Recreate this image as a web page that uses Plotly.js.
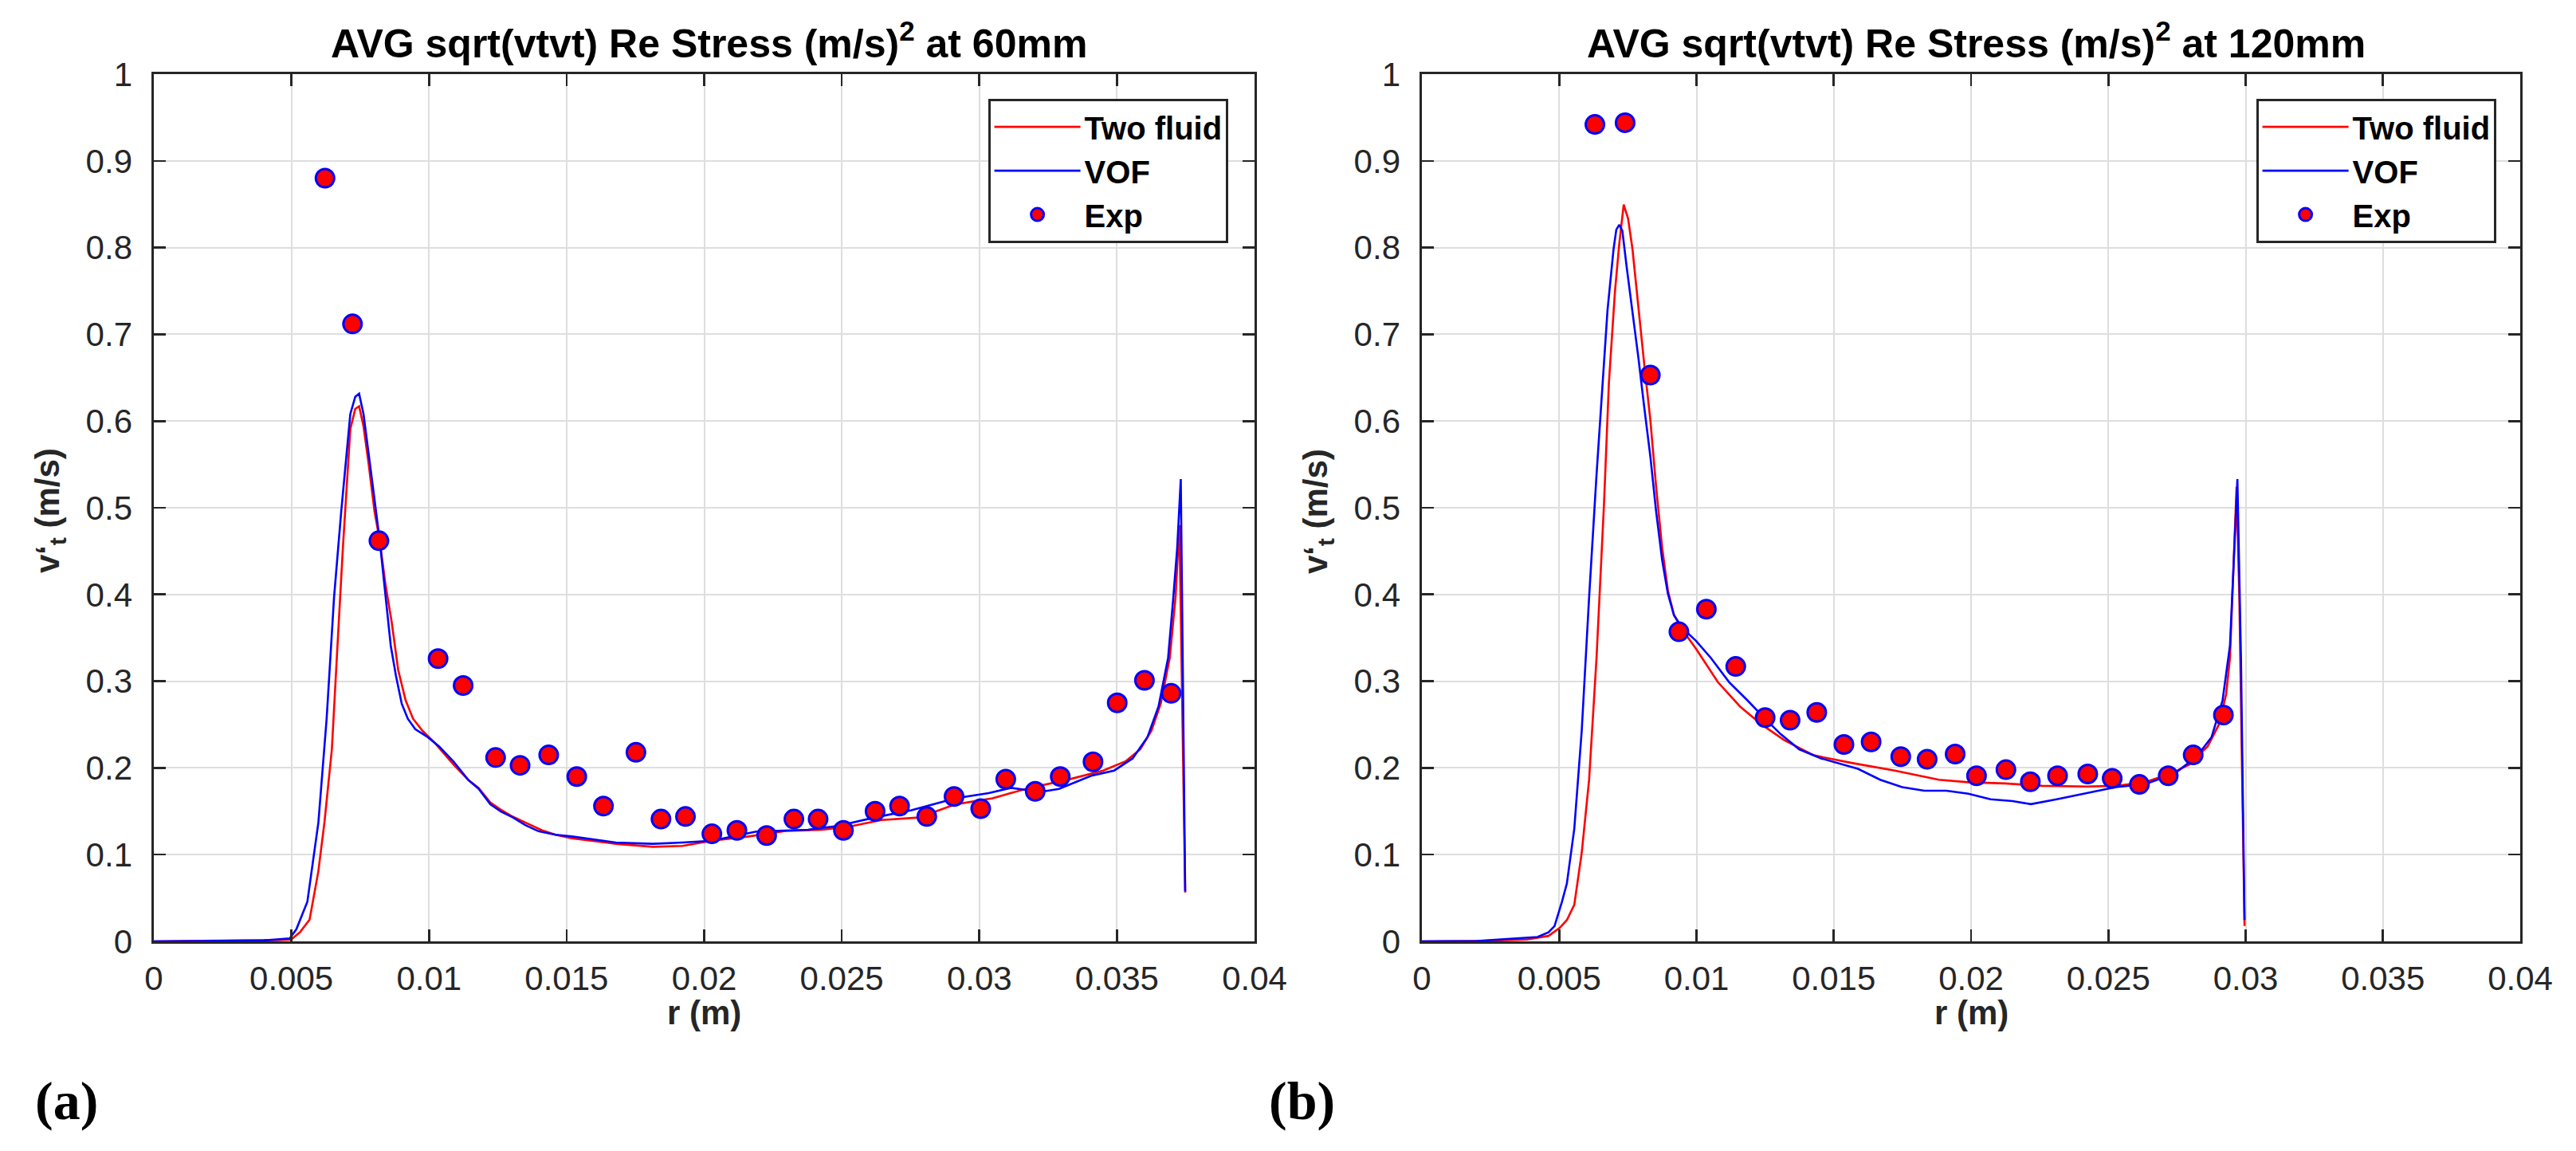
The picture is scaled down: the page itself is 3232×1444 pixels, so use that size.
<!DOCTYPE html>
<html>
<head>
<meta charset="utf-8">
<script src="https://cdn.plot.ly/plotly-3.0.1.min.js"></script>
<style>
html,body{margin:0;padding:0;background:#fff;}
#chart{width:3232px;height:1444px;}
</style>
</head>
<body>
<div id="chart"></div>
<script>
// ---------- Data: panel (a) 60 mm ----------
const expR60 = [0.00622,0.00722,0.00818,0.01033,0.01124,0.01242,0.01331,0.01435,0.01537,0.01634,0.01752,0.01843,0.01932,0.02028,0.02119,0.02227,0.02326,0.02414,0.02506,0.02621,0.02710,0.02809,0.02908,0.03005,0.03096,0.03203,0.03294,0.03413,0.03501,0.03600,0.03697];
const expV60 = [0.880,0.712,0.462,0.326,0.295,0.212,0.203,0.215,0.190,0.156,0.218,0.141,0.144,0.124,0.128,0.122,0.141,0.141,0.128,0.150,0.156,0.144,0.167,0.153,0.187,0.173,0.190,0.207,0.275,0.301,0.286];

const twoR60 = [0,0.002,0.004,0.0045,0.00499,0.00531,0.00566,0.00598,0.0062,0.00647,0.00665,0.00687,0.00714,0.00732,0.00746,0.00762,0.0078,0.00802,0.00821,0.00842,0.00864,0.00888,0.00915,0.00942,0.00977,0.01022,0.01089,0.01143,0.0118,0.01223,0.0126,0.01304,0.0135,0.01411,0.0146,0.01519,0.01679,0.01814,0.01921,0.02028,0.02162,0.02296,0.0243,0.02538,0.02645,0.0278,0.02913,0.03048,0.03182,0.03316,0.0345,0.03531,0.03585,0.03625,0.03659,0.03692,0.03713,0.03727,0.03748];
const twoV60 = [0,0.0005,0.001,0.0015,0.002,0.0105,0.025,0.081,0.137,0.2215,0.327,0.4536,0.5907,0.614,0.617,0.594,0.552,0.4958,0.462,0.411,0.369,0.313,0.278,0.2567,0.2426,0.2285,0.204,0.186,0.177,0.160,0.152,0.1438,0.137,0.128,0.123,0.1188,0.1125,0.109,0.110,0.116,0.121,0.1273,0.1287,0.133,0.140,0.1428,0.158,0.165,0.177,0.186,0.197,0.2075,0.2215,0.2426,0.274,0.327,0.397,0.48,0.0563];

const vofR60 = [0,0.002,0.004,0.00494,0.00518,0.00558,0.00598,0.00628,0.00655,0.00681,0.00714,0.00732,0.00746,0.00762,0.0078,0.00799,0.00821,0.00842,0.00861,0.0088,0.00901,0.00923,0.0095,0.00995,0.01036,0.01089,0.01143,0.0118,0.01223,0.0126,0.01304,0.0135,0.01398,0.0146,0.01519,0.01679,0.01814,0.01921,0.02028,0.02189,0.02377,0.02485,0.02619,0.02753,0.02913,0.03034,0.03115,0.03222,0.03289,0.0341,0.0349,0.03557,0.03611,0.03651,0.03686,0.03705,0.03719,0.03732,0.03748];
const vofV60 = [0,0.0005,0.001,0.0035,0.014,0.0457,0.137,0.2567,0.397,0.4958,0.608,0.628,0.6315,0.608,0.566,0.517,0.462,0.397,0.341,0.306,0.274,0.2567,0.2447,0.2356,0.225,0.2075,0.186,0.176,0.158,0.150,0.143,0.134,0.127,0.123,0.121,0.114,0.1125,0.114,0.116,0.1266,0.1287,0.133,0.1428,0.1512,0.165,0.171,0.177,0.1723,0.1758,0.1913,0.197,0.211,0.2356,0.2707,0.327,0.397,0.4536,0.533,0.0577];

// ---------- Data: panel (b) 120 mm ----------
const expR120 = [0.0063,0.0074,0.00832,0.00936,0.01036,0.01143,0.0125,0.01341,0.01438,0.01537,0.01636,0.01744,0.0184,0.01942,0.0202,0.02127,0.02216,0.02315,0.02425,0.02514,0.02613,0.02718,0.02809,0.02919];
const expV120 = [0.942,0.944,0.653,0.357,0.383,0.317,0.258,0.255,0.264,0.227,0.230,0.213,0.210,0.216,0.191,0.198,0.184,0.191,0.193,0.188,0.181,0.191,0.215,0.261];

const twoR120 = [0,0.002,0.00381,0.00461,0.00502,0.00528,0.00555,0.00582,0.00609,0.00636,0.00663,0.00681,0.00703,0.00719,0.00735,0.00751,0.00767,0.00789,0.0081,0.00832,0.00853,0.00875,0.00896,0.00918,0.0095,0.00998,0.01078,0.01159,0.01239,0.0132,0.01427,0.01561,0.01722,0.01883,0.0199,0.02125,0.02259,0.0242,0.02527,0.02634,0.02728,0.02795,0.02862,0.02902,0.02929,0.02943,0.02956,0.02967,0.02977,0.02988,0.02996];
const twoV120 = [0,0.0005,0.002,0.0063,0.0155,0.0246,0.0422,0.102,0.1864,0.327,0.503,0.6435,0.749,0.805,0.8495,0.8333,0.798,0.728,0.6646,0.6013,0.524,0.4536,0.4044,0.3762,0.3586,0.3376,0.2989,0.2707,0.2496,0.232,0.2145,0.206,0.1969,0.1864,0.1835,0.1821,0.1793,0.1786,0.1793,0.1835,0.1934,0.2039,0.225,0.2496,0.2848,0.327,0.4325,0.524,0.397,0.1864,0.0176];

const vofR120 = [0,0.002,0.00421,0.00461,0.00483,0.0051,0.00528,0.00555,0.00582,0.00609,0.00636,0.00657,0.00676,0.00698,0.00708,0.00719,0.0073,0.00746,0.00767,0.00789,0.0081,0.00832,0.00853,0.00875,0.00896,0.00918,0.0095,0.00998,0.01052,0.01119,0.01186,0.01239,0.01306,0.01374,0.01454,0.01588,0.01669,0.01749,0.0183,0.0191,0.0199,0.02071,0.02151,0.02218,0.02312,0.0242,0.02527,0.02634,0.02741,0.02822,0.02876,0.02916,0.02943,0.02956,0.0297,0.02983,0.02996];
const vofV120 = [0,0.0005,0.005,0.0105,0.0176,0.0457,0.0668,0.130,0.2426,0.397,0.538,0.6364,0.7278,0.7982,0.8207,0.8263,0.8193,0.777,0.728,0.6716,0.6153,0.5591,0.4958,0.4395,0.4008,0.3762,0.3608,0.3467,0.327,0.2989,0.2778,0.2602,0.2391,0.2215,0.211,0.199,0.1864,0.1779,0.1737,0.1737,0.1702,0.1639,0.1617,0.1582,0.1639,0.1709,0.1779,0.1814,0.1934,0.2131,0.2356,0.2778,0.341,0.4325,0.533,0.327,0.0246];

// ---------- Text ----------
const seriesNames = ['Two fluid', 'VOF', 'Exp'];
const titles = ['AVG sqrt(vtvt) Re Stress (m/s)<sup>2</sup> at 60mm', 'AVG sqrt(vtvt) Re Stress (m/s)<sup>2</sup> at 120mm'];
const xLabel = 'r (m)';
const yLabel = 'v‘<sub>t</sub> (m/s)';
const panelLabels = ['(a)', '(b)'];

// ---------- Styling ----------
const FONT = 'Liberation Sans, Arial, Helvetica, sans-serif';
const AX = '#262626';
const W = 3232, H = 1444;
const px = v => v / W;
const py = v => 1 - v / H;

function lineTrace(x, y, name, color, xa, ya, leg) {
  return {x, y, name, type: 'scatter', mode: 'lines', xaxis: xa, yaxis: ya, legend: leg,
          line: {color, width: 2.6}, hoverinfo: 'skip'};
}
function expTrace(x, y, xa, ya, leg) {
  return {x, y, name: seriesNames[2], type: 'scatter', mode: 'markers', xaxis: xa, yaxis: ya, legend: leg,
          marker: {symbol: 'circle', size: 23, color: '#ff0000', line: {color: '#0000ff', width: 3}}, hoverinfo: 'skip'};
}

const data = [
  lineTrace(twoR60, twoV60, seriesNames[0], '#ff0000', 'x', 'y', 'legend'),
  lineTrace(vofR60, vofV60, seriesNames[1], '#0000ff', 'x', 'y', 'legend'),
  expTrace(expR60, expV60, 'x', 'y', 'legend'),
  lineTrace(twoR120, twoV120, seriesNames[0], '#ff0000', 'x2', 'y2', 'legend2'),
  lineTrace(vofR120, vofV120, seriesNames[1], '#0000ff', 'x2', 'y2', 'legend2'),
  expTrace(expR120, expV120, 'x2', 'y2', 'legend2'),
];

const axisCommon = {
  showline: true, linecolor: AX, linewidth: 2.6, mirror: 'ticks',
  ticks: 'inside', ticklen: 15, tickwidth: 2.6, tickcolor: AX,
  showgrid: true, gridcolor: '#dedede', gridwidth: 2,
  zeroline: false, fixedrange: true,
  tickfont: {family: FONT, size: 42, color: AX},
};
const xAxisBase = Object.assign({}, axisCommon, {range: [0, 0.04], tick0: 0, dtick: 0.005, ticklabelstandoff: 8});
const yAxisBase = Object.assign({}, axisCommon, {range: [0, 1], tick0: 0, dtick: 0.1, ticklabelstandoff: 16});

const xDomA = [px(193), px(1574)];
const xDomB = [px(1784), px(3162)];
const yDom = [py(1181), py(93)];

const legendBase = {
  xanchor: 'right', yanchor: 'top', bgcolor: '#ffffff', bordercolor: AX, borderwidth: 2.6,
  font: {family: FONT, size: 40, color: '#000000', weight: 'bold'}, itemwidth: 108, tracegroupgap: 0
};

function ann(text, x, y, opts) {
  return Object.assign({text, x, y, xref: 'paper', yref: 'paper', showarrow: false,
                        xanchor: 'center', yanchor: 'middle'}, opts || {});
}

const annotations = [
  ann(titles[0], (xDomA[0] + xDomA[1]) / 2 + px(6), py(51), {font: {family: FONT, size: 50, color: '#000', weight: 'bold'}}),
  ann(titles[1], (xDomB[0] + xDomB[1]) / 2 + px(6), py(51), {font: {family: FONT, size: 50, color: '#000', weight: 'bold'}}),
  ann(xLabel, (xDomA[0] + xDomA[1]) / 2, py(1270), {font: {family: FONT, size: 42, color: AX, weight: 'bold'}}),
  ann(xLabel, (xDomB[0] + xDomB[1]) / 2, py(1270), {font: {family: FONT, size: 42, color: AX, weight: 'bold'}}),
  ann(yLabel, px(63), py(641), {textangle: -90, font: {family: FONT, size: 42, color: AX, weight: 'bold'}}),
  ann(yLabel, px(1654), py(641), {textangle: -90, font: {family: FONT, size: 42, color: AX, weight: 'bold'}}),
  ann(panelLabels[0], px(83), py(1381), {font: {family: 'Liberation Serif, DejaVu Serif, serif', size: 68, color: '#000', weight: 'bold'}}),
  ann(panelLabels[1], px(1633), py(1381), {font: {family: 'Liberation Serif, DejaVu Serif, serif', size: 68, color: '#000', weight: 'bold'}}),
];

const layout = {
  width: W, height: H, autosize: false,
  margin: {l: 0, r: 0, t: 0, b: 0, pad: 0},
  paper_bgcolor: '#ffffff', plot_bgcolor: '#ffffff',
  font: {family: FONT, color: AX},
  showlegend: true,
  xaxis: Object.assign({}, xAxisBase, {domain: xDomA, anchor: 'y'}),
  yaxis: Object.assign({}, yAxisBase, {domain: yDom, anchor: 'x'}),
  xaxis2: Object.assign({}, xAxisBase, {domain: xDomB, anchor: 'y2'}),
  yaxis2: Object.assign({}, yAxisBase, {domain: yDom, anchor: 'x2'}),
  legend: Object.assign({}, legendBase, {x: px(1541), y: py(124)}),
  legend2: Object.assign({}, legendBase, {x: px(3132), y: py(124)}),
  annotations,
};

Plotly.newPlot('chart', data, layout, {displayModeBar: false, staticPlot: true});
</script>
</body>
</html>
